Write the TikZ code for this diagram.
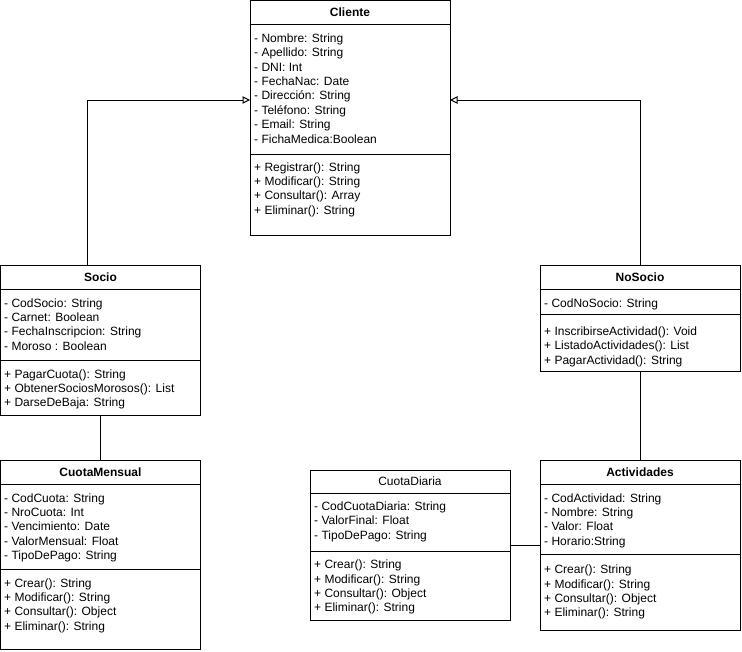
\documentclass[tikz,border=0pt]{standalone}
\usepackage{fontspec}
\setmainfont{Liberation Sans}
\usetikzlibrary{arrows.meta}

\tikzset{
  classbox/.style={draw=black, line width=1pt, fill=white, anchor=north west, inner sep=0pt, outer sep=0pt},
  classtitle/.style={font=\fontsize{12}{14.4}\selectfont\bfseries, inner sep=0pt, text height=8.6pt, text depth=0pt, anchor=center},
  plaintitle/.style={classtitle, font=\fontsize{12}{14.4}\selectfont},
  member/.style={font=\fontsize{12}{14.4}\selectfont, inner sep=0pt, anchor=base west},
  divider/.style={line width=1pt},
  link/.style={line width=1pt},
  inherit/.style={line width=1pt, -{Triangle[open, length=7.5pt, width=7.5pt, fill=white]}},
}

% one text line per member, 14.4 units apart, starting at the given baseline
\newcommand{\memberlines}[4]{%
  \foreach \t [count=\i] in {#4} {
    \node[member, name=#1-\i] at ({#2},{#3+14.4*(\i-1)}) {\t};
  }%
}

\begin{document}
\begin{tikzpicture}[x=1pt, y=-1pt]
\useasboundingbox (0,0) rectangle (742,651);

% ---------- Cliente ----------
\node[classbox, minimum width=200pt, minimum height=234.5pt] (cliente) at (250,0.5) {};
\node[classtitle] (cliente-t) at (350,12) {Cliente};
\draw[divider] (cliente.west |- 0,24) -- (cliente.east |- 0,24);
\draw[divider] (cliente.west |- 0,154) -- (cliente.east |- 0,154);
\memberlines{cliente-a}{254}{42.3}{- Nombre: String, - Apellido: String, - DNI: Int, - FechaNac: Date, - Dirección: String, - Teléfono: String, - Email: String, - FichaMedica:Boolean}
\memberlines{cliente-m}{254}{171}{+ Registrar(): String, + Modificar(): String, + Consultar(): Array, + Eliminar(): String}

% ---------- Socio ----------
\node[classbox, minimum width=200pt, minimum height=150pt] (socio) at (0.5,265) {};
\node[classtitle] (socio-t) at (100.5,277) {Socio};
\draw[divider] (socio.west |- 0,289) -- (socio.east |- 0,289);
\draw[divider] (socio.west |- 0,360) -- (socio.east |- 0,360);
\memberlines{socio-a}{4}{307}{- CodSocio: String, - Carnet: Boolean, - FechaInscripcion: String, - Moroso : Boolean}
\memberlines{socio-m}{4}{378}{+ PagarCuota(): String, + ObtenerSociosMorosos(): List, + DarseDeBaja: String}

% ---------- NoSocio ----------
\node[classbox, minimum width=200pt, minimum height=106pt] (nosocio) at (540,265) {};
\node[classtitle] (nosocio-t) at (640,277) {NoSocio};
\draw[divider] (nosocio.west |- 0,289) -- (nosocio.east |- 0,289);
\draw[divider] (nosocio.west |- 0,314) -- (nosocio.east |- 0,314);
\memberlines{nosocio-a}{544}{307}{- CodNoSocio: String}
\memberlines{nosocio-m}{544}{335.3}{+ InscribirseActividad(): Void, + ListadoActividades(): List, + PagarActividad(): String}

% ---------- CuotaMensual ----------
\node[classbox, minimum width=200pt, minimum height=189pt] (mensual) at (0.5,460) {};
\node[classtitle] (mensual-t) at (100.5,472) {CuotaMensual};
\draw[divider] (mensual.west |- 0,484) -- (mensual.east |- 0,484);
\draw[divider] (mensual.west |- 0,569) -- (mensual.east |- 0,569);
\memberlines{mensual-a}{4}{502}{- CodCuota: String, - NroCuota: Int, - Vencimiento: Date, - ValorMensual: Float, - TipoDePago: String}
\memberlines{mensual-m}{4}{587}{+ Crear(): String, + Modificar(): String, + Consultar(): Object, + Eliminar(): String}

% ---------- CuotaDiaria ----------
\node[classbox, minimum width=200pt, minimum height=150pt] (diaria) at (310,470) {};
\node[plaintitle] (diaria-t) at (410,481.5) {CuotaDiaria};
\draw[divider] (diaria.west |- 0,493.5) -- (diaria.east |- 0,493.5);
\draw[divider] (diaria.west |- 0,551) -- (diaria.east |- 0,551);
\memberlines{diaria-a}{314}{510.3}{- CodCuotaDiaria: String, - ValorFinal: Float, - TipoDePago: String}
\memberlines{diaria-m}{314}{568.6}{+ Crear(): String, + Modificar(): String, + Consultar(): Object, + Eliminar(): String}

% ---------- Actividades ----------
\node[classbox, minimum width=200pt, minimum height=170pt] (activ) at (540,460) {};
\node[classtitle] (activ-t) at (640,472) {Actividades};
\draw[divider] (activ.west |- 0,484) -- (activ.east |- 0,484);
\draw[divider] (activ.west |- 0,554) -- (activ.east |- 0,554);
\memberlines{activ-a}{544}{502}{- CodActividad: String, - Nombre: String, - Valor: Float, - Horario:String}
\memberlines{activ-m}{544}{573.6}{+ Crear(): String, + Modificar(): String, + Consultar(): Object, + Eliminar(): String}

% ---------- relations ----------
\draw[inherit] ([xshift=86.5pt]socio.north west) |- ([yshift=-99.5pt]cliente.north west);
\draw[inherit] (nosocio.north) |- ([yshift=-99.5pt]cliente.north east);
\draw[link] (socio.south) -- (mensual.north);
\draw[link] (nosocio.south) -- (activ.north);
\draw[link] ([yshift=-75pt]diaria.north east) -- (activ.west |- 0,545);
\end{tikzpicture}
\end{document}
